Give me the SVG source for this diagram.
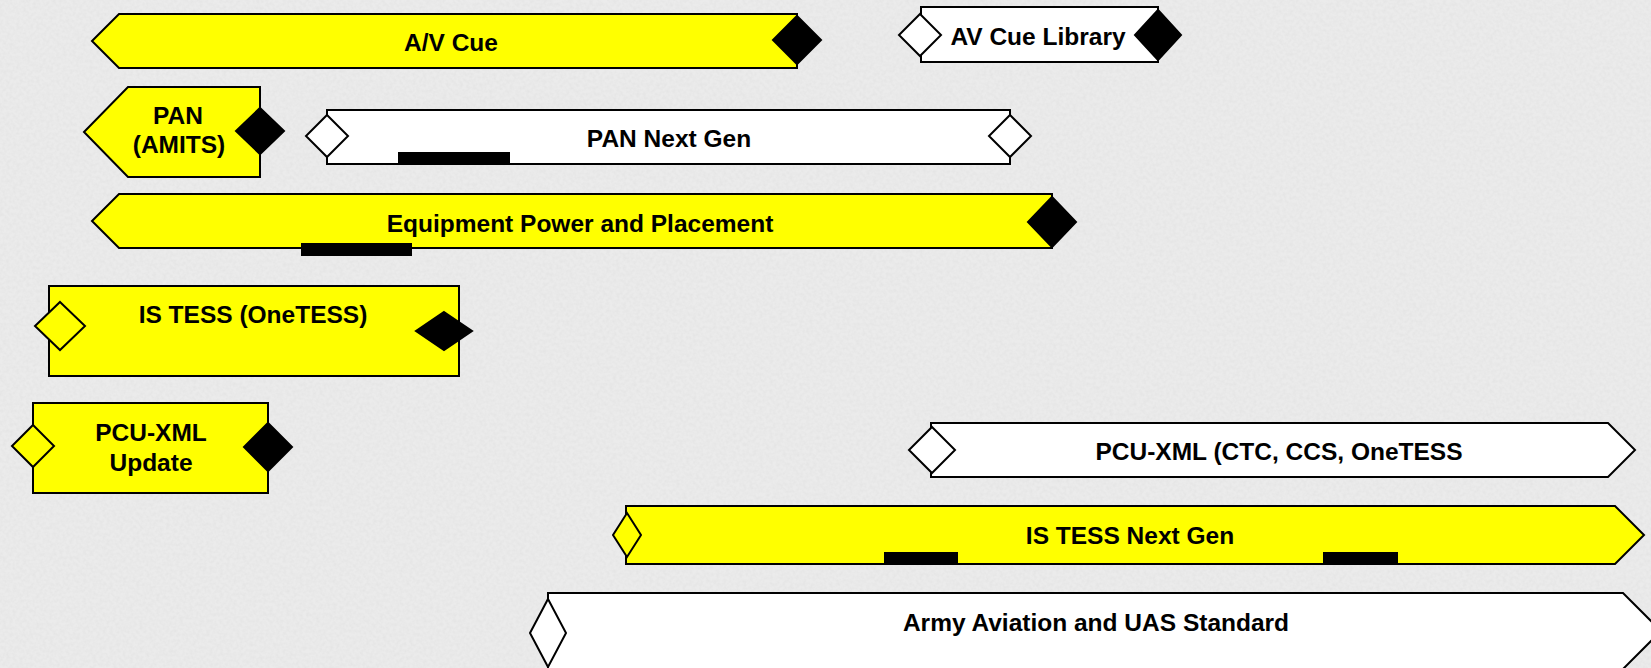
<svg xmlns="http://www.w3.org/2000/svg" width="1651" height="668" viewBox="0 0 1651 668">
<style>
.bg{fill:#ebebeb}
.y{fill:#ffff00;stroke:#000;stroke-width:2;stroke-linejoin:miter}
.w{fill:#ffffff;stroke:#000;stroke-width:2;stroke-linejoin:miter}
.k{fill:#000;stroke:#000;stroke-width:2}
.bar{fill:#000}
text{font-family:"Liberation Sans",Arial,sans-serif;font-weight:bold;font-size:24.5px;fill:#000;text-anchor:middle}
</style>
<defs>
<filter id="grain" x="0" y="0" width="100%" height="100%" filterUnits="userSpaceOnUse">
<feTurbulence type="fractalNoise" baseFrequency="0.3" numOctaves="2" seed="7" result="n"/>
<feColorMatrix in="n" type="matrix" values="0 0 0 0 0.55  0 0 0 0 0.55  0 0 0 0 0.55  0.3 0 0 0 -0.1"/>
</filter>
</defs>
<rect class="bg" x="0" y="0" width="1651" height="668"/>
<rect x="0" y="0" width="1651" height="668" filter="url(#grain)"/>
<g id="connectors"></g>

<g id="av-cue">
<polygon class="y" points="92,41 119,14 797,14 797,68 119,68"/>
<polygon class="k" points="797,16 821,40 797,64 773,40"/>
<text x="451" y="51">A/V Cue</text>
</g>

<g id="av-cue-library">
<rect class="w" x="921" y="7" width="237" height="55"/>
<polygon class="w" points="920,14 941,35 920,56 899,35"/>
<polygon class="k" points="1158,10 1181,35 1158,60 1135,35"/>
<text x="1038" y="45">AV Cue Library</text>
</g>

<g id="pan-amits">
<polygon class="y" points="84,132 128,87 260,87 260,177 128,177"/>
<polygon class="k" points="260,108 284,131 260,154 236,131"/>
<text x="178" y="124">PAN</text>
<text x="179" y="153">(AMITS)</text>
</g>

<g id="pan-next-gen">
<rect class="w" x="327" y="110" width="683" height="54"/>
<rect class="bar" x="398" y="152" width="112" height="12"/>
<polygon class="w" points="327,115 348,136 327,157 306,136"/>
<polygon class="w" points="1010,115 1031,136 1010,157 989,136"/>
<text x="669" y="147">PAN Next Gen</text>
</g>

<g id="equipment-power">
<polygon class="y" points="92,221 119,194 1052,194 1052,248 119,248"/>
<rect class="bar" x="301" y="243" width="111" height="13"/>
<polygon class="k" points="1052,197 1076,222 1052,247 1028,222"/>
<text x="580" y="232">Equipment Power and Placement</text>
</g>

<g id="is-tess-onetess">
<rect class="y" x="49" y="286" width="410" height="90"/>
<polygon class="y" points="60,302 85,326 60,350 35,326"/>
<polygon class="k" points="444,312 472,331 444,350 416,331"/>
<text x="253" y="323">IS TESS (OneTESS)</text>
</g>

<g id="pcu-xml-update">
<rect class="y" x="33" y="403" width="235" height="90"/>
<polygon class="y" points="33,425 54,446 33,467 12,446"/>
<polygon class="k" points="268,423 292,447 268,471 244,447"/>
<text x="151" y="441">PCU-XML</text>
<text x="151" y="471">Update</text>
</g>

<g id="pcu-xml-ctc">
<polygon class="w" points="931,423 1608,423 1635,450 1608,477 931,477"/>
<polygon class="w" points="932,427 955,450 932,473 909,450"/>
<text x="1279" y="460">PCU-XML (CTC, CCS, OneTESS</text>
</g>

<g id="is-tess-next-gen">
<polygon class="y" points="626,506 1615,506 1644,535 1615,564 626,564"/>
<rect class="bar" x="884" y="552" width="74" height="12"/>
<rect class="bar" x="1323" y="552" width="75" height="12"/>
<polygon class="y" points="627,513 641,535 627,557 613,535"/>
<text x="1130" y="544">IS TESS Next Gen</text>
</g>

<g id="army-aviation">
<polygon class="w" points="548,593 1623,593 1661,631 1623,669 548,669"/>
<polygon class="w" points="548,599 566,633 548,667 530,633"/>
<text x="1096" y="631">Army Aviation and UAS Standard</text>
</g>
</svg>
